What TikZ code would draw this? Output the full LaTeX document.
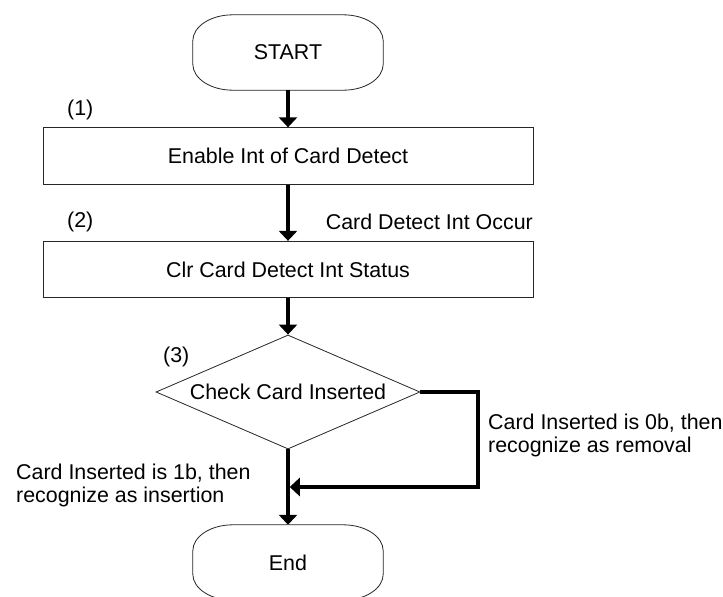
\documentclass[tikz,border=0pt]{standalone}
\usepackage{fontspec}
\setmainfont{Liberation Sans}
\usetikzlibrary{arrows.meta,shapes.geometric}
\begin{document}
\begin{tikzpicture}[x=1pt,y=-1pt,
  every node/.style={font=\fontsize{21.4}{23}\selectfont},
  outl/.style={draw=black!85,line width=0.8pt},
  term/.style={minimum width=190pt,minimum height=75pt,inner sep=0pt},
  proc/.style={outl,minimum width=490pt,minimum height=56.5pt,inner sep=0pt},
  dec/.style={outl,diamond,aspect=2.3158,minimum width=264pt,minimum height=114pt,inner sep=0pt},
  lab/.style={inner sep=0pt},
  conn/.style={line width=3.5pt,line join=miter,-{Triangle[width=18pt,length=10pt]}},
]
\fill[white] (0,0) rectangle (723,597);
\useasboundingbox (0,0) rectangle (723,597);

\node[term] (s) at (288,52.5) {START};
\node[proc] (b1) at (288,156) {Enable Int of Card Detect};
\node[proc] (b2) at (288,269.5) {Clr Card Detect Int Status};
\node[dec] (d) at (288,392) {Check Card Inserted};
\node[term] (e) at (288,562.5) {End};

\foreach \n in {s,e}
  \draw[outl] ([xshift=40pt]\n.north west) -- ([xshift=-40pt]\n.north east)
    arc[start angle=90,end angle=0,x radius=40pt,y radius=26pt]
    -- ([yshift=26pt]\n.south east)
    arc[start angle=0,end angle=-90,x radius=40pt,y radius=26pt]
    -- ([xshift=40pt]\n.south west)
    arc[start angle=270,end angle=180,x radius=40pt,y radius=26pt]
    -- ([yshift=-26pt]\n.north west)
    arc[start angle=180,end angle=90,x radius=40pt,y radius=26pt] -- cycle;

\coordinate (r) at (478,487);
\coordinate (m) at (289.75,487);

\draw[conn] (s) -- (b1);
\draw[conn] (b1) -- (b2);
\draw[conn] (b2) -- (d);
\draw[conn] (d.south) -- (e.north);
\draw[conn] (d.east) -| (r) -- (m);

\node[lab,anchor=west] (l1) at (67,110) {(1)};
\node[lab,anchor=west] (l2) at (67,222) {(2)};
\node[lab,anchor=west] (l3) at (163,357) {(3)};
\node[lab,anchor=east] (occ) at (533,222) {Card Detect Int Occur};
\node[lab,anchor=west,align=left] (rem) at (488,435.5) {Card Inserted is 0b, then\\recognize as removal};
\node[lab,anchor=west,align=left] (ins) at (16,485) {Card Inserted is 1b, then\\recognize as insertion};
\end{tikzpicture}
\end{document}
